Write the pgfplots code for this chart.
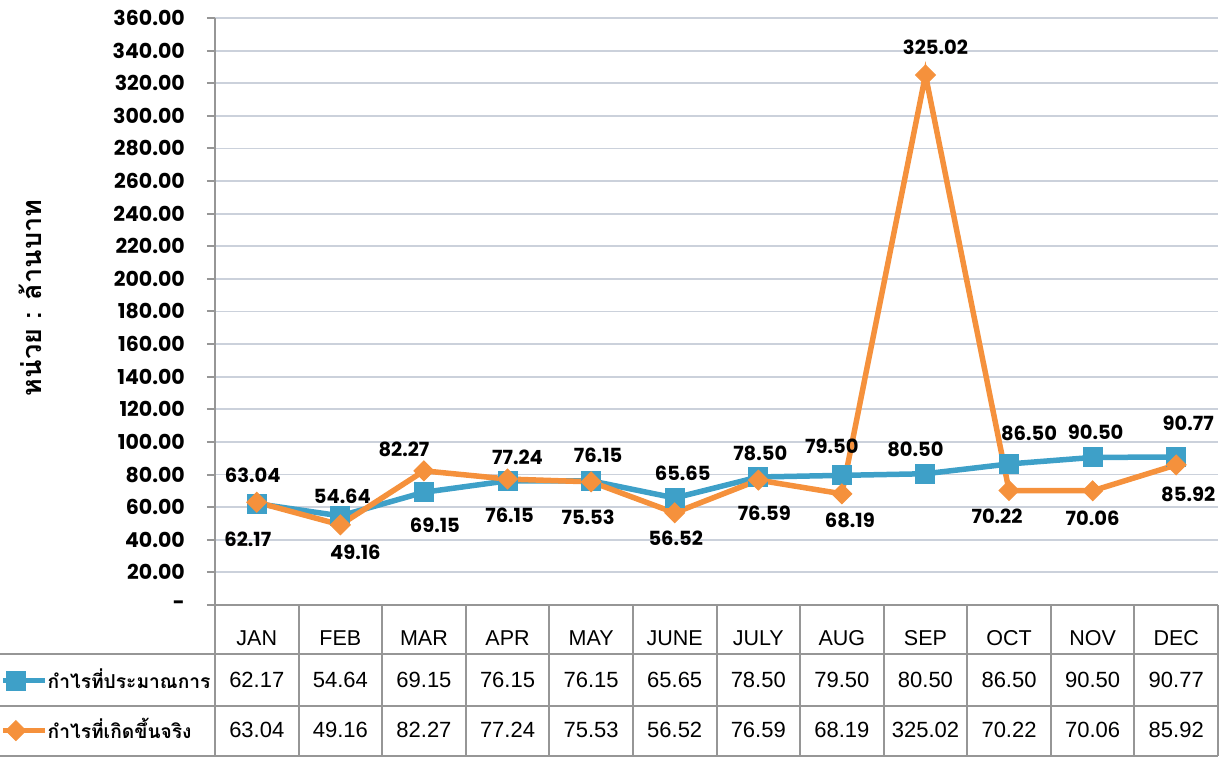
\documentclass[border=0pt]{standalone}
\usepackage{pgfplots}
\pgfplotsset{compat=1.18}
\usepackage{pgfplotstable}
\usepackage{fontspec}
\setmainfont{Liberation Sans}
\newfontfamily\numfont{Poppins}
\newfontfamily\thaifont[Script=Thai]{Loma}
\definecolor{cblue}{RGB}{62,160,200}
\definecolor{corange}{RGB}{245,145,60}
\definecolor{gridc}{RGB}{203,209,219}
\definecolor{linec}{RGB}{150,150,150}
\pgfplotsset{/pgf/number format/assume math mode=true}

\pgfplotstableread{
x est act edx edy adx ady
0 62.17 63.04 -9 -36 -4 27
1 54.64 49.16 2 20 15 -27
2 69.15 82.27 11 -33 -20 21
3 76.15 77.24 2 -34 10 22
4 76.15 75.53 7 26 -3 -35
5 65.65 56.52 8 25 1 -25
6 78.50 76.59 2 24 6 -33
7 79.50 68.19 -10 29 8 -27
8 80.50 325.02 -10 24 10 28
9 86.50 70.22 20 31 -12 -26
10 90.50 70.06 3 25 0 -28
11 90.77 85.92 12 34 12 -29
}\data

\begin{document}
\begin{tikzpicture}
\path[use as bounding box] (-215pt,-153pt) rectangle (1008pt,605pt);
\begin{axis}[
  at={(0pt,0pt)}, anchor=south west,
  scale only axis, width=1003pt, height=587pt,
  xmin=-0.5, xmax=11.5, ymin=0, ymax=360,
  clip=false,
  axis lines=left,
  axis line style={-, draw=linec, line width=2pt},
  xtick={0,...,11},
  xticklabels={JAN,FEB,MAR,APR,MAY,JUNE,JULY,AUG,SEP,OCT,NOV,DEC},
  xtick style={draw=none},
  xticklabel style={anchor=center, yshift=-25pt, font=\fontsize{21.5}{24}\selectfont},
  ytick={0,20,...,360},
  yticklabels={-,20.00,40.00,60.00,80.00,100.00,120.00,140.00,160.00,180.00,200.00,220.00,240.00,260.00,280.00,300.00,320.00,340.00,360.00},
  ytick pos=left,
  tick align=outside,
  major tick length=8pt,
  ytick style={draw=linec, line width=2pt},
  yticklabel style={font=\numfont\bfseries\fontsize{20.5}{22}\selectfont, anchor=east, inner sep=0pt, xshift=-22pt},
  ymajorgrids,
  major grid style={draw=gridc, line width=1.8pt},
  ylabel={หน่วย : ล้านบาท},
  ylabel style={font=\thaifont\bfseries\fontsize{27}{30}\selectfont, at={(axis description cs:-0.184,0.523)}, anchor=center, rotate=0},
  legend style={at={(axis description cs:-0.2144,-0.1124)}, anchor=north west, draw=none, fill=none, inner sep=0pt, row sep=23pt,
    font=\thaifont\bfseries\fontsize{19.2}{22}\selectfont, nodes={inner sep=0pt, text height=11pt, text depth=9pt}},
  legend cell align=left,
  legend image code/.code={\draw[#1, mark repeat=2, mark phase=2] plot coordinates {(0pt,7pt) (13pt,7pt) (42pt,7pt)};},
]
% table grid
\pgfplotsinvokeforeach{-0.5,0.5,1.5,2.5,3.5,4.5,5.5,6.5,7.5,8.5,9.5,10.5,11.5}{
  \draw[linec, line width=2pt] (axis cs:#1,0) -- (axis cs:#1,-92.6);
}
\draw[linec, line width=2pt] (axis cs:-3.2,-30.05) -- (axis cs:11.5,-30.05);
\draw[linec, line width=2pt] (axis cs:-3.2,-61.9) -- (axis cs:11.5,-61.9);
\draw[linec, line width=2pt] (axis cs:-3.2,-92.6) -- (axis cs:11.5,-92.6);

\addplot[cblue, line width=5.5pt, mark=square*, mark size=9.5pt, mark options={solid, line width=1pt},
  point meta=explicit,
  visualization depends on={\thisrow{edx} \as \labdx},
  visualization depends on={\thisrow{edy} \as \labdy},
  nodes near coords={\pgfmathprintnumber[fixed,fixed zerofill,precision=2]{\pgfplotspointmeta}},
  every node near coord/.append style={anchor=center, text=black, inner sep=0pt, xshift=\labdx*1pt, yshift=\labdy*1pt, font=\numfont\bfseries\fontsize{19.5}{21}\selectfont}]
  table[x=x, y=est, meta=est]{\data};
\addplot[corange, line width=5.5pt, mark=square*, mark size=7pt, mark options={solid, line width=1pt, rotate=45},
  point meta=explicit,
  visualization depends on={\thisrow{adx} \as \labdx},
  visualization depends on={\thisrow{ady} \as \labdy},
  nodes near coords={\pgfmathprintnumber[fixed,fixed zerofill,precision=2]{\pgfplotspointmeta}},
  every node near coord/.append style={anchor=center, text=black, inner sep=0pt, xshift=\labdx*1pt, yshift=\labdy*1pt, font=\numfont\bfseries\fontsize{19.5}{21}\selectfont}]
  table[x=x, y=act, meta=act]{\data};
\legend{กำไรที่ประมาณการ, กำไรที่เกิดขึ้นจริง}

% table values
\addplot[draw=none, mark=none, forget plot, point meta=explicit,
  nodes near coords={\pgfmathprintnumber[fixed,fixed zerofill,precision=2]{\pgfplotspointmeta}},
  every node near coord/.append style={anchor=center, text=black, font=\fontsize{22}{24}\selectfont}]
  table[x=x, y expr=-46, meta=est]{\data};
\addplot[draw=none, mark=none, forget plot, point meta=explicit,
  nodes near coords={\pgfmathprintnumber[fixed,fixed zerofill,precision=2]{\pgfplotspointmeta}},
  every node near coord/.append style={anchor=center, text=black, font=\fontsize{22}{24}\selectfont}]
  table[x=x, y expr=-76.7, meta=act]{\data};
\end{axis}
\end{tikzpicture}
\end{document}
